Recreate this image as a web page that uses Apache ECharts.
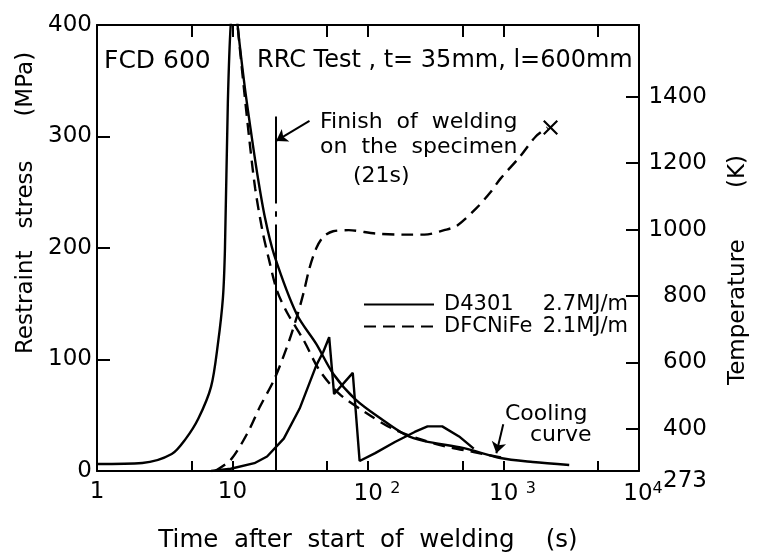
<!DOCTYPE html>
<html>
<head>
<meta charset="utf-8">
<script src="https://cdn.jsdelivr.net/npm/echarts@6/dist/echarts.min.js"></script>
<style>html,body{margin:0;padding:0;background:#fff;}#c{width:758px;height:558px;}</style>
</head>
<body>
<div id="c"></div>
<script>
// ---------- data ----------
// Cooling curves: time (s) and temperature (K)
const coolSolidT = [1, 2.16, 3.56, 4.5, 5.6, 6.95, 7.8, 8.5, 8.8, 9.24, 9.7, 10.4, 10.9, 12.3, 13.6, 15.3, 17.4, 20.3, 29.8, 41.6, 55.3, 81.1, 127, 187, 261, 510, 947, 1644, 3055];
const coolSolidK = [294, 297, 324, 369, 431, 527, 655, 795, 945, 1383, 1616, 1720, 1616, 1431, 1303, 1163, 1034, 924, 745, 655, 566, 488, 428, 383, 363, 342, 312, 300, 291];
const coolDashT = [10.4, 10.9, 12.1, 13.3, 14.7, 16.6, 18.6, 21.3, 25.2, 33.5, 43.7, 61.1, 95.9, 150.6, 232.6, 365, 603, 1000];
const coolDashK = [1720, 1616, 1431, 1273, 1124, 998, 909, 816, 751, 667, 577, 506, 449, 401, 371, 348, 330, 312];
// Restraint stress curves: time (s) and stress (MPa)
const stressSolidT = [6.95, 9.7, 14.5, 18.0, 23.9, 31.3, 41.6, 46.8, 51.7, 56.2, 77.2, 86.7, 113, 158, 221, 275, 353, 470, 603];
const stressSolidV = [0, 2, 7, 13, 29, 56, 95, 107, 120, 69, 88, 9, 16, 26, 35, 40, 40, 31, 20];
const stressDashT = [7.43, 9.7, 12.9, 16.0, 20.3, 25.2, 29.8, 33.5, 37.0, 41.6, 46.8, 55.3, 72.1, 113, 187, 261, 365, 454, 634, 801, 947, 1324, 1730, 2113];
const stressDashV = [0, 10, 34, 58, 82, 111, 138, 160, 182, 200, 210, 215, 216, 213, 212, 212, 216, 220, 236, 250, 262, 282, 300, 308];
// Legend entries
const legendNames = ['D4301', 'DFCNiFe'];
const heatInputs = ['2.7MJ/m', '2.1MJ/m'];
// Axis ticks / labels
const timeLabelValues = [1, 10, 100, 1000, 10000];
const timeTickValues = [5, 10, 50, 100, 500, 1000, 5000];
const tempLabelValues = [273, 400, 600, 800, 1000, 1200, 1400];
const tempTickValues = [400, 600, 800, 1000, 1200, 1400];
// Annotations
const finishTime = 21;                       // s
const finishLineParts = [[318, 240], [233, 228], [221, 0]]; // MPa spans of the dash-dot line
const finishArrow = [[37, 314], [21, 296]];  // [t, MPa] from text to line
const coolingArrow = [[996, 42], [886, 16]]; // [t, MPa] from text to curve
// ----------------------------------------------------

const FONT = 'DejaVu Sans';
const pairs = (xs, ys) => xs.map((x, i) => [x, ys[i]]);
const dash = [12, 7];
const LW = 2.4;

const chart = echarts.init(document.getElementById('c'), null, {renderer: 'canvas'});

const axisLineStyle = {color: '#000', width: 2};

const finishSegments = finishLineParts.map(p => [
  {coord: [finishTime, p[0]]}, {coord: [finishTime, p[1]]}
]);

const option = {
  animation: false,
  backgroundColor: '#fff',
  textStyle: {fontFamily: FONT, color: '#000'},
  grid: {left: 97, right: 110, top: 25, bottom: 83, containLabel: false},
  legend: {
    data: legendNames,
    orient: 'vertical',
    left: 358, top: 289,
    itemWidth: 70, itemHeight: 12, itemGap: 1,
    itemStyle: {color: 'rgba(0,0,0,0)', borderWidth: 0, opacity: 0},
    textStyle: {fontFamily: FONT, fontSize: 21, color: '#000', lineHeight: 18,
      rich: {
        a: {fontFamily: FONT, fontSize: 21, width: 92, padding: [0, 0, 0, 5], lineHeight: 18},
        b: {fontFamily: FONT, fontSize: 21, width: 92, align: 'right', lineHeight: 18}
      }},
    formatter: name => '{a|' + name + '}{b|' + heatInputs[legendNames.indexOf(name)] + '}'
  },
  xAxis: [{
    type: 'log', logBase: 10, min: 1, max: 10000, position: 'bottom',
    name: 'Time  after  start  of  welding    (s)',
    nameLocation: 'middle', nameGap: 57,
    nameTextStyle: {fontFamily: FONT, fontSize: 24.5, color: '#000'},
    axisLine: {show: true, onZero: false, lineStyle: axisLineStyle},
    axisTick: {show: true, inside: true, length: 10, lineStyle: axisLineStyle, customValues: timeTickValues},
    axisLabel: {
      show: true, margin: 10, fontFamily: FONT, fontSize: 23, color: '#000',
      customValues: timeLabelValues,
      formatter: v => {
        const e = Math.round(Math.log10(v));
        return e < 2 ? String(Math.round(v)) : (e < 4 ? '{p|}10 {s|' + e + '}' : '{q|}10{s|' + e + '}');
      },
      rich: {
        s: {fontFamily: FONT, fontSize: 16, verticalAlign: 'top', padding: [0, 0, 10, 0]},
        p: {width: 18},
        q: {width: 8}
      }
    },
    splitLine: {show: false}, minorTick: {show: false}
  }, {
    type: 'log', logBase: 10, min: 1, max: 10000, position: 'top',
    axisLine: {show: true, onZero: false, lineStyle: axisLineStyle},
    axisTick: {show: true, inside: true, length: 12, lineStyle: axisLineStyle, customValues: timeTickValues},
    axisLabel: {show: false},
    splitLine: {show: false}
  }],
  yAxis: [{
    type: 'value', min: 0, max: 400, interval: 100, position: 'left',
    name: 'Restraint   stress      (MPa)',
    nameLocation: 'middle', nameRotate: 90, nameGap: 58,
    nameTextStyle: {fontFamily: FONT, fontSize: 23, color: '#000', padding: [0, 0, 0, 90]},
    axisLine: {show: true, lineStyle: axisLineStyle},
    axisTick: {show: true, inside: true, length: 13, lineStyle: axisLineStyle},
    axisLabel: {margin: 5, fontFamily: FONT, fontSize: 23, color: '#000'},
    splitLine: {show: false}
  }, {
    type: 'value', min: 273, max: 1616, position: 'right',
    name: 'Temperature       (K)',
    nameLocation: 'middle', nameRotate: 90, nameGap: 88,
    nameTextStyle: {fontFamily: FONT, fontSize: 23, color: '#000', padding: [0, 44, 0, 0]},
    axisLine: {show: true, lineStyle: axisLineStyle},
    axisTick: {show: true, inside: true, length: 13, lineStyle: axisLineStyle, customValues: tempTickValues},
    axisLabel: {
      margin: 68, align: 'right', fontFamily: FONT, fontSize: 23, color: '#000',
      customValues: tempLabelValues,
      formatter: v => v === tempLabelValues[0] ? '{low|' + v + '}' : String(v),
      rich: {low: {fontFamily: FONT, fontSize: 23, padding: [20, 0, 0, 0]}}
    },
    splitLine: {show: false}
  }],
  graphic: [
    {type: 'text', left: 104, top: 49, style: {text: 'FCD 600', font: '25px "DejaVu Sans"', fill: '#000'}},
    {type: 'text', left: 257, top: 49, style: {text: 'RRC Test , t= 35mm, l=600mm', font: '24px "DejaVu Sans"', fill: '#000'}},
    {type: 'text', left: 320, top: 111, style: {text: 'Finish  of  welding', font: '22px "DejaVu Sans"', fill: '#000'}},
    {type: 'text', left: 320, top: 136, style: {text: 'on  the  specimen', font: '22px "DejaVu Sans"', fill: '#000'}},
    {type: 'text', left: 353, top: 165, style: {text: '(21s)', font: '22px "DejaVu Sans"', fill: '#000'}},
    {type: 'text', left: 505, top: 403, style: {text: 'Cooling', font: '22px "DejaVu Sans"', fill: '#000'}},
    {type: 'text', left: 530, top: 424, style: {text: 'curve', font: '22px "DejaVu Sans"', fill: '#000'}}
  ],
  series: [
    {
      name: 'D4301', type: 'line', xAxisIndex: 0, yAxisIndex: 1,
      data: pairs(coolSolidT, coolSolidK), showSymbol: false, symbol: 'none',
      smooth: 0.3, clip: true,
      lineStyle: {color: '#000', width: LW, type: 'solid'}, itemStyle: {color: '#000'}
    },
    {
      name: 'DFCNiFe', type: 'line', xAxisIndex: 0, yAxisIndex: 1,
      data: pairs(coolDashT, coolDashK), showSymbol: false, symbol: 'none',
      smooth: 0.3, clip: true,
      lineStyle: {color: '#000', width: LW, type: dash}, itemStyle: {color: '#000'}
    },
    {
      name: 'D4301', type: 'line', xAxisIndex: 0, yAxisIndex: 0,
      data: pairs(stressSolidT, stressSolidV), showSymbol: false, symbol: 'none',
      smooth: false, clip: true,
      lineStyle: {color: '#000', width: LW, type: 'solid'}, itemStyle: {color: '#000'}
    },
    {
      name: 'DFCNiFe', type: 'line', xAxisIndex: 0, yAxisIndex: 0,
      data: pairs(stressDashT, stressDashV), showSymbol: false, symbol: 'none',
      smooth: 0.3, clip: true,
      lineStyle: {color: '#000', width: LW, type: dash}, itemStyle: {color: '#000'},
      markPoint: {
        symbol: 'path://M1,0 L5,4 L9,0 L10,1 L6,5 L10,9 L9,10 L5,6 L1,10 L0,9 L4,5 L0,1 Z',
        symbolSize: 15,
        itemStyle: {color: '#000'},
        label: {show: false},
        data: [{coord: [stressDashT[stressDashT.length - 1], stressDashV[stressDashV.length - 1]], symbolOffset: [3, 0]}]
      }
    },
    {
      type: 'line', xAxisIndex: 0, yAxisIndex: 0, data: [], silent: true,
      markLine: {
        silent: true, animation: false,
        symbol: ['none', 'none'],
        label: {show: false},
        lineStyle: {color: '#000', width: 2, type: 'solid'},
        emphasis: {disabled: true},
        data: finishSegments.concat([
          [{coord: finishArrow[0], symbol: 'none'}, {coord: finishArrow[1], symbol: 'arrow', symbolSize: 11}],
          [{coord: coolingArrow[0], symbol: 'none'}, {coord: coolingArrow[1], symbol: 'arrow', symbolSize: 11}]
        ])
      }
    }
  ]
};
chart.setOption(option);
</script>
</body>
</html>
